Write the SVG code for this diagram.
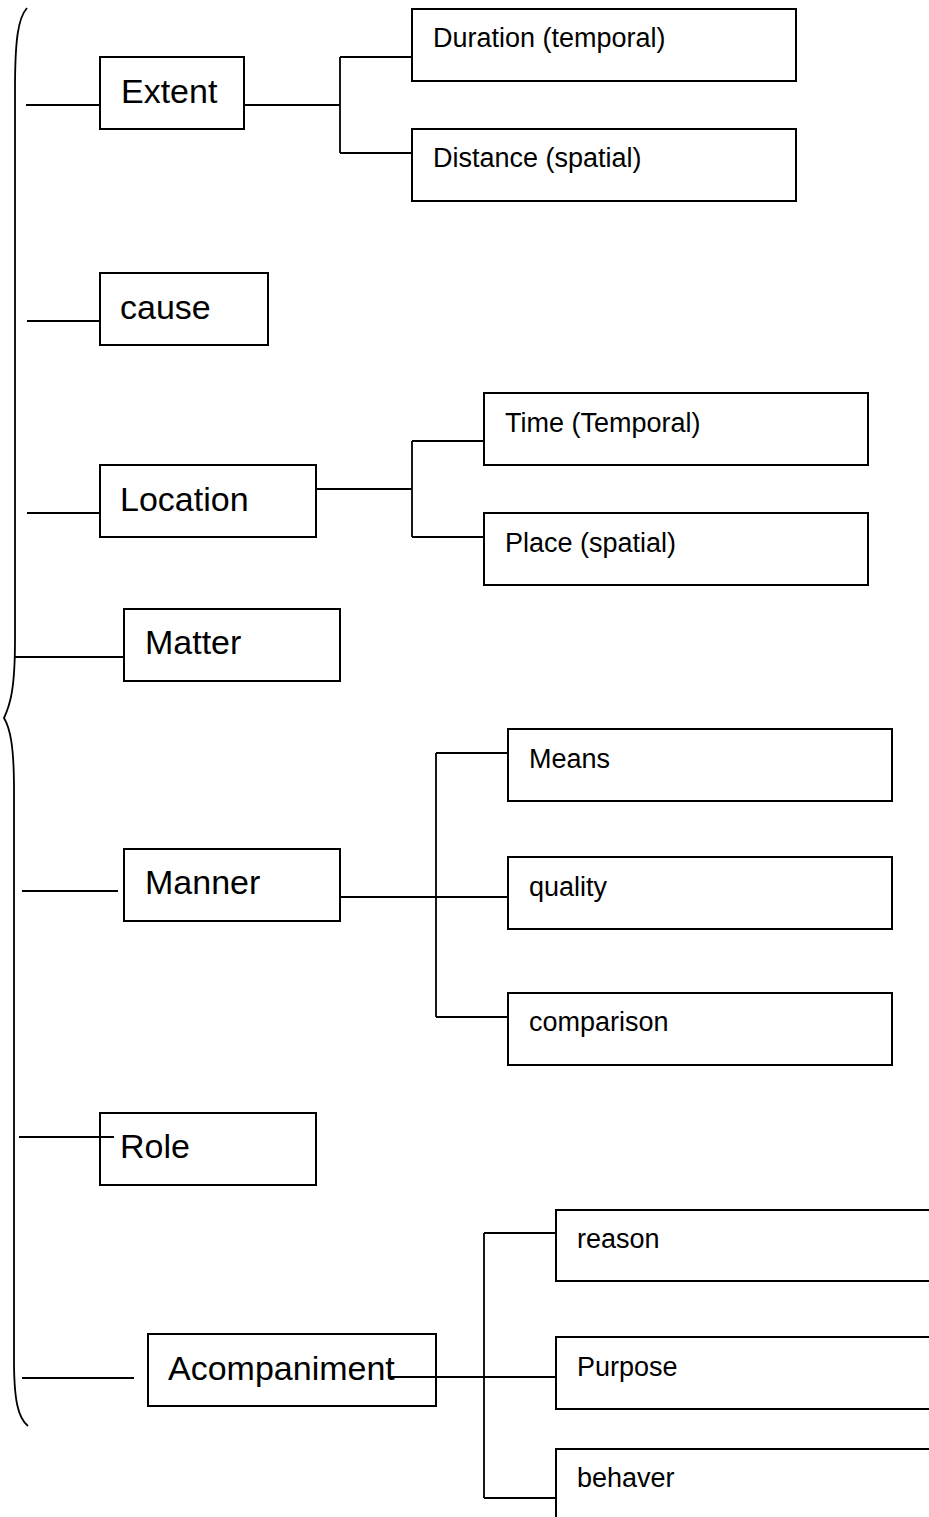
<svg xmlns="http://www.w3.org/2000/svg" width="929" height="1517" viewBox="0 0 929 1517">
<style>
.box{fill:#fff;stroke:#000;stroke-width:2}
.ln{fill:none;stroke:#000;stroke-width:1.8}
.big{font-family:"Liberation Sans",Arial,sans-serif;font-size:34px;fill:#000}
.sm{font-family:"Liberation Sans",Arial,sans-serif;font-size:27px;fill:#000}
</style>
<rect width="929" height="1517" fill="#fff"/>
<g id="extent"><rect class="box" x="100" y="57" width="144" height="72"/><text class="big" x="121" y="103">Extent</text></g>
<g id="duration"><rect class="box" x="412" y="9" width="384" height="72"/><text class="sm" x="433" y="47">Duration (temporal)</text></g>
<g id="distance"><rect class="box" x="412" y="129" width="384" height="72"/><text class="sm" x="433" y="167">Distance (spatial)</text></g>
<g id="cause"><rect class="box" x="100" y="273" width="168" height="72"/><text class="big" x="120" y="319">cause</text></g>
<g id="location"><rect class="box" x="100" y="465" width="216" height="72"/><text class="big" x="120" y="511">Location</text></g>
<g id="time"><rect class="box" x="484" y="393" width="384" height="72"/><text class="sm" x="505" y="432">Time (Temporal)</text></g>
<g id="place"><rect class="box" x="484" y="513" width="384" height="72"/><text class="sm" x="505" y="552">Place (spatial)</text></g>
<g id="matter"><rect class="box" x="124" y="609" width="216" height="72"/><text class="big" x="145" y="654">Matter</text></g>
<g id="manner"><rect class="box" x="124" y="849" width="216" height="72"/><text class="big" x="145" y="894">Manner</text></g>
<g id="means"><rect class="box" x="508" y="729" width="384" height="72"/><text class="sm" x="529" y="768">Means</text></g>
<g id="quality"><rect class="box" x="508" y="857" width="384" height="72"/><text class="sm" x="529" y="896">quality</text></g>
<g id="comparison"><rect class="box" x="508" y="993" width="384" height="72"/><text class="sm" x="529" y="1031">comparison</text></g>
<g id="role"><rect class="box" x="100" y="1113" width="216" height="72"/><text class="big" x="120" y="1158">Role</text></g>
<g id="acompaniment"><rect class="box" x="148" y="1334" width="288" height="72"/><text class="big" x="168" y="1380">Acompaniment</text></g>
<g id="reason"><rect class="box" x="556" y="1210" width="400" height="71"/><text class="sm" x="577" y="1248">reason</text></g>
<g id="purpose"><rect class="box" x="556" y="1337" width="400" height="72"/><text class="sm" x="577" y="1376">Purpose</text></g>
<g id="behaver"><rect class="box" x="556" y="1449" width="400" height="100"/><text class="sm" x="577" y="1487">behaver</text></g>
<g id="connectors">
<path class="ln" d="M27,8 C18,18 15,40 15,90 L15,640 C15,690 10,705 4,718 C10,728 14,745 14,790 L14,1360 C14,1400 18,1418 28,1426"/>
<path class="ln" d="M26,105 H100 M27,321 H100 M27,513 H100 M15,657 H124 M22,891 H118 M19,1137 H114 M22,1378 H134"/>
<path class="ln" d="M244,105 H340 M340,57 V153 M340,57 H412 M340,153 H412"/>
<path class="ln" d="M316,489 H412 M412,441 V537 M412,441 H484 M412,537 H484"/>
<path class="ln" d="M340,897 H508 M436,753 V1017 M436,753 H508 M436,1017 H508"/>
<path class="ln" d="M484,1233 V1498 M484,1233 H556 M484,1498 H556"/>
<path class="ln" d="M388,1377 H556"/>
</g>
</svg>
